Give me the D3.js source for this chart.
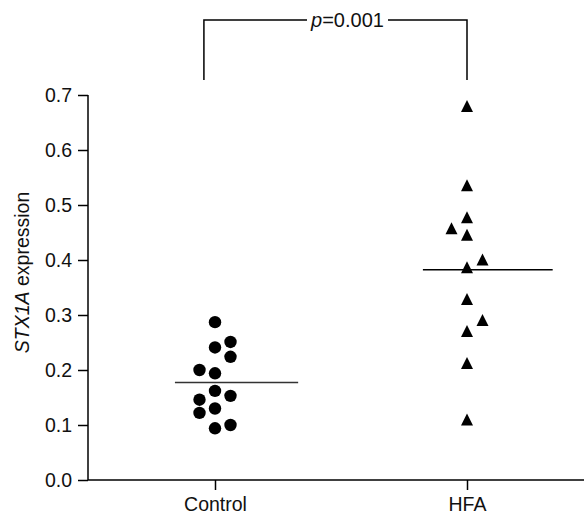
<!DOCTYPE html>
<html><head><meta charset="utf-8">
<script src="https://cdn.jsdelivr.net/npm/d3@7"></script>
<style>body{margin:0;background:#fff}svg{display:block}text{font-family:"Liberation Sans",Arial,sans-serif}</style>
</head><body>
<svg id="c" width="584" height="517"></svg>
<script>
const categories = ["Control", "HFA"];
const controlValues = [0.287, 0.241, 0.251, 0.224, 0.200, 0.194, 0.162, 0.153, 0.146, 0.122, 0.130, 0.094, 0.100];
const controlColumns = [0, 0, 1, 1, -1, 0, 0, 1, -1, -1, 0, 0, 1];
const hfaValues = [0.679, 0.535, 0.477, 0.457, 0.445, 0.400, 0.386, 0.328, 0.290, 0.270, 0.212, 0.109];
const hfaColumns = [0, 0, 0, -1, 0, 1, 0, 0, 1, 0, 0, 0];
const yTicks = [0.0, 0.1, 0.2, 0.3, 0.4, 0.5, 0.6, 0.7];
const pLabel = "0.001";

const FS = 19.5;
const svg = d3.select("#c");
const y = d3.scaleLinear().domain([0, 0.7]).range([480, 95]);
const x = d3.scaleLinear().domain([0, 1]).range([215, 467]);
const colStep = 15.5;

// y axis
const yAxis = d3.axisLeft(y).tickValues(yTicks).tickFormat(d3.format(".1f")).tickSize(10).tickPadding(6);
const gy = svg.append("g").attr("transform", "translate(88,0)").call(yAxis);
gy.attr("font-size", FS);
gy.select(".domain").attr("d", `M0,${y(0.7)}V${y(0)}`).attr("stroke", "#000").attr("stroke-width", 1.5);
gy.selectAll(".tick line").attr("stroke", "#000").attr("stroke-width", 1.5);
gy.selectAll("text").attr("fill", "#111").style("font-family", "Liberation Sans, Arial, sans-serif").style("font-size", FS + "px");

// x axis
const xAxis = d3.axisBottom(x).tickValues([0, 1]).tickFormat(i => categories[i]).tickSize(10).tickPadding(7);
const gx = svg.append("g").attr("transform", `translate(0,${y(0)})`).call(xAxis);
gx.select(".domain").attr("d", "M88,0H584").attr("stroke", "#000").attr("stroke-width", 1.5);
gx.selectAll(".tick line").attr("stroke", "#000").attr("stroke-width", 1.5);
gx.selectAll("text").attr("fill", "#111").style("font-family", "Liberation Sans, Arial, sans-serif").style("font-size", FS + "px");

// y label
const yl = svg.append("text").attr("transform", `translate(29,${(y(0)+y(0.7))/2 - 15}) rotate(-90)`)
  .attr("text-anchor", "middle").style("font-size", FS + "px").attr("fill", "#111");
yl.append("tspan").attr("font-style", "italic").text("STX1A");
yl.append("tspan").text(" expression");

// points
svg.append("g").selectAll("circle").data(controlValues).join("circle")
  .attr("cx", (d, i) => x(0) + controlColumns[i] * colStep)
  .attr("cy", d => y(d)).attr("r", 6.2).attr("fill", "#000");

const tri = (cx, cy) => `M${cx},${cy-6.5}L${cx+6},${cy+5.5}L${cx-6},${cy+5.5}Z`;
svg.append("g").selectAll("path").data(hfaValues).join("path")
  .attr("d", (d, i) => tri(x(1) + hfaColumns[i] * colStep, y(d))).attr("fill", "#000");

// mean lines
const cMean = d3.mean(controlValues), hMean = d3.mean(hfaValues);
svg.append("line").attr("x1", x(-0.159)).attr("x2", x(0.33)).attr("y1", y(cMean)).attr("y2", y(cMean))
  .attr("stroke", "#333").attr("stroke-width", 1.5);
svg.append("line").attr("x1", x(0.825)).attr("x2", x(1.34)).attr("y1", y(hMean)).attr("y2", y(hMean))
  .attr("stroke", "#000").attr("stroke-width", 1.5);

// significance bracket
const bx1 = x(-0.044), bx2 = x(1), by = 20, bBottom = 80;
const br = svg.append("g").attr("stroke", "#000").attr("stroke-width", 1.5).attr("fill", "none");
br.append("path").attr("d", `M${bx1},${bBottom}V${by}H307`);
br.append("path").attr("d", `M388,${by}H${bx2}V${bBottom}`);
const pt = svg.append("text").attr("x", 347.5).attr("y", by + 7).attr("text-anchor", "middle")
  .style("font-size", "20px").attr("fill", "#111");
pt.append("tspan").attr("font-style", "italic").text("p");
pt.append("tspan").text("=" + pLabel);
</script>
</body></html>
